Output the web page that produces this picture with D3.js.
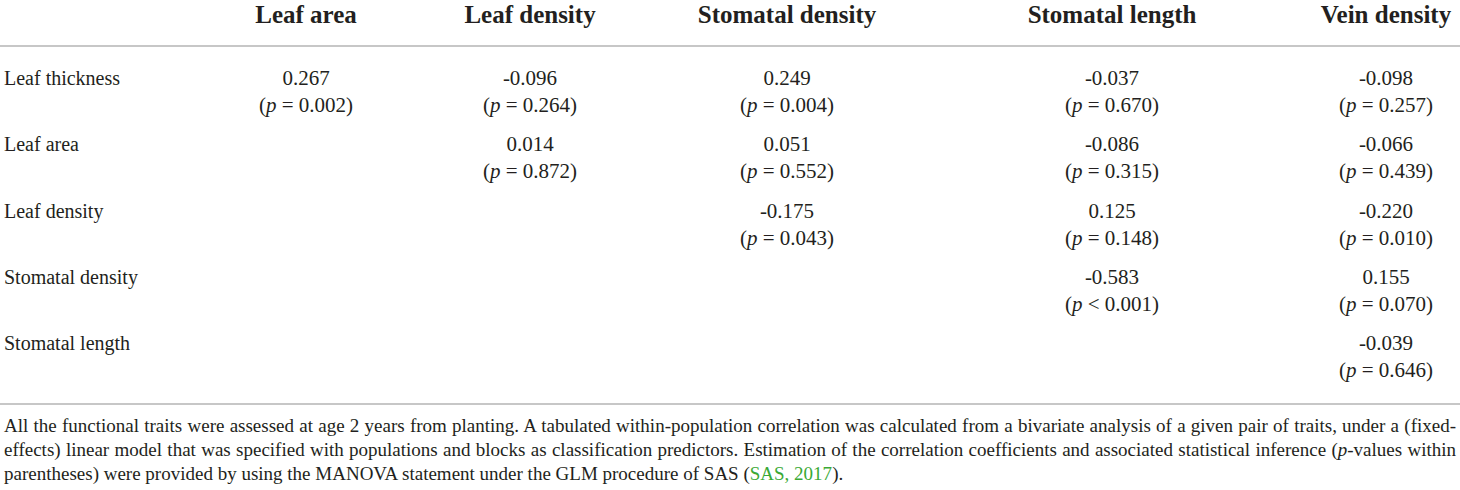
<!DOCTYPE html>
<html>
<head>
<meta charset="utf-8">
<script src="https://cdn.jsdelivr.net/npm/d3@7"></script>
<style>
  html, body { margin: 0; padding: 0; background: #fff; }
  svg { display: block; }
  text { font-family: "Liberation Serif", "Times New Roman", serif; fill: #231f20; }
</style>
</head>
<body>
<svg id="chart" width="1460" height="490"></svg>
<script>
// ---- data ----
const columns = ["Leaf area", "Leaf density", "Stomatal density", "Stomatal length", "Vein density"];
const rows = ["Leaf thickness", "Leaf area", "Leaf density", "Stomatal density", "Stomatal length"];
// correlation coefficients (null = empty cell)
const rValues = [
  ["0.267", "-0.096", "0.249", "-0.037", "-0.098"],
  [null, "0.014", "0.051", "-0.086", "-0.066"],
  [null, null, "-0.175", "0.125", "-0.220"],
  [null, null, null, "-0.583", "0.155"],
  [null, null, null, null, "-0.039"]
];
const pOps = [
  ["=", "=", "=", "=", "="],
  [null, "=", "=", "=", "="],
  [null, null, "=", "=", "="],
  [null, null, null, "<", "="],
  [null, null, null, null, "="]
];
const pValues = [
  ["0.002", "0.264", "0.004", "0.670", "0.257"],
  [null, "0.872", "0.552", "0.315", "0.439"],
  [null, null, "0.043", "0.148", "0.010"],
  [null, null, null, "0.001", "0.070"],
  [null, null, null, null, "0.646"]
];
const footLines = [
  [{t: "All the functional traits were assessed at age 2 years from planting. A tabulated within-population correlation was calculated from a bivariate analysis of a given pair of traits, under a (fixed-"}],
  [{t: "effects) linear model that was specified with populations and blocks as classification predictors. Estimation of the correlation coefficients and associated statistical inference ("}, {t: "p", i: true}, {t: "-values within"}],
  [{t: "parentheses) were provided by using the MANOVA statement under the GLM procedure of SAS ("}, {t: "SAS, 2017", link: true}, {t: ")."}]
];

// ---- layout ----
const W = 1460;
const svg = d3.select("#chart");

const x = d3.scaleOrdinal().domain(columns).range([306, 530, 787, 1112, 1386]);
const y = d3.scalePoint().domain(rows).range([85, 350]);

// header
svg.selectAll("text.head").data(columns).join("text")
  .attr("class", "head")
  .attr("x", d => x(d)).attr("y", 23)
  .attr("text-anchor", "middle")
  .style("font-size", "25px").style("font-weight", "bold")
  .text(d => d);

// rules
svg.append("line").attr("x1", 0).attr("x2", W).attr("y1", 46).attr("y2", 46)
  .attr("stroke", "#b4b4b4").attr("stroke-width", 1.5);
svg.append("line").attr("x1", 0).attr("x2", W).attr("y1", 404).attr("y2", 404)
  .attr("stroke", "#b4b4b4").attr("stroke-width", 1.5);

// row labels
svg.selectAll("text.rowlab").data(rows).join("text")
  .attr("class", "rowlab")
  .attr("x", 4).attr("y", d => y(d))
  .style("font-size", "20px")
  .text(d => d);

// cells
const cells = [];
rows.forEach((r, i) => columns.forEach((c, j) => {
  if (rValues[i][j] !== null) cells.push({row: r, col: c, r: rValues[i][j], op: pOps[i][j], p: pValues[i][j]});
}));

const g = svg.selectAll("g.cell").data(cells).join("g").attr("class", "cell");
g.append("text")
  .attr("x", d => x(d.col)).attr("y", d => y(d.row))
  .attr("text-anchor", "middle").style("font-size", "21px")
  .text(d => d.r);
const pt = g.append("text")
  .attr("x", d => x(d.col)).attr("y", d => y(d.row) + 27)
  .attr("text-anchor", "middle").style("font-size", "21px");
pt.append("tspan").text("(");
pt.append("tspan").style("font-style", "italic").text("p");
pt.append("tspan").text(d => " " + d.op + " " + d.p + ")");

// footnote
const footY = [432, 456, 480];
const fl = svg.selectAll("text.foot").data(footLines).join("text")
  .attr("class", "foot")
  .attr("x", 4).attr("y", (d, i) => footY[i])
  .style("font-size", "19px");
fl.each(function(parts) {
  const t = d3.select(this);
  parts.forEach(p => {
    const s = t.append("tspan").text(p.t);
    if (p.i) s.style("font-style", "italic");
    if (p.link) s.style("fill", "#3aa935");
  });
});
// justify first two lines
fl.each(function(parts, i) {
  if (i > 1) return;
  const target = 1456 - 4;
  const natural = this.getComputedTextLength();
  const full = parts.map(p => p.t).join("");
  const spaces = (full.match(/ /g) || []).length;
  d3.select(this).style("word-spacing", ((target - natural) / spaces) + "px");
});
</script>
</body>
</html>
